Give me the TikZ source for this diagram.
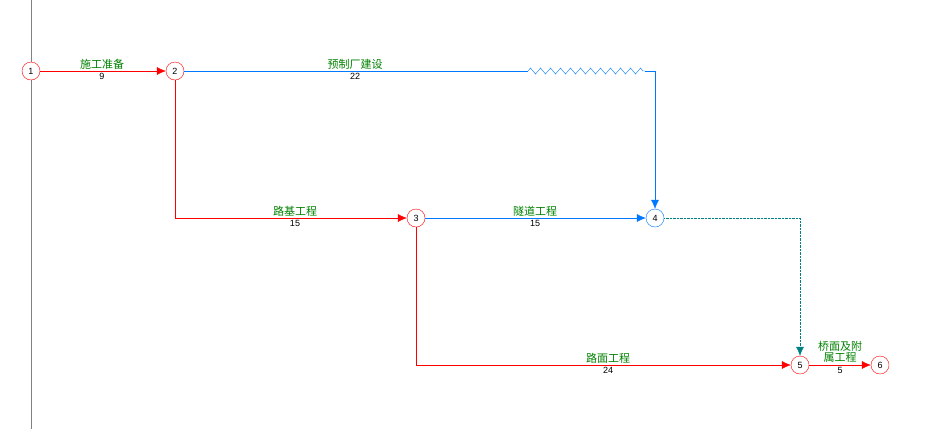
\documentclass[tikz,border=0pt]{standalone}
\usepackage{fontspec}
\setmainfont{Liberation Sans}
\newfontfamily\cjk{Noto Sans CJK SC}
\usetikzlibrary{arrows.meta,decorations.pathmorphing}
\definecolor{myred}{RGB}{255,0,0}
\definecolor{myblue}{RGB}{0,120,255}
\definecolor{mygreen}{RGB}{0,128,0}
\definecolor{myteal}{RGB}{0,128,128}
\begin{document}
\begin{tikzpicture}[x=1pt,y=-1pt,
  ev/.style={circle,draw=myred,fill=white,minimum size=18pt,inner sep=0pt,font=\fontsize{9}{9}\selectfont},
  evb/.style={ev,draw=myblue},
  act/.style={draw=myred,-{Latex[length=9pt,width=8pt]}},
  actb/.style={draw=myblue,-{Latex[length=9pt,width=8pt]}},
  nm/.style={text=mygreen,font=\cjk\fontsize{11}{11}\selectfont,inner sep=1pt},
  du/.style={font=\fontsize{9}{9}\selectfont,inner sep=1pt}]
\useasboundingbox (0,0) rectangle (939,429);
\draw[gray] (31,0) -- (31,429);
\node[ev] (n1) at (31,71) {1};
\node[ev] (n2) at (175,71) {2};
\node[ev] (n3) at (416,218) {3};
\node[evb] (n4) at (655,218) {4};
\node[ev] (n5) at (800,365) {5};
\node[ev] (n6) at (880,365) {6};
\coordinate (z1) at (528,71);
\coordinate (z2) at (645,71);
\coordinate (z3) at (655,71);
\coordinate (c23) at (175,218);
\coordinate (c35) at (416,365);
\coordinate (c45) at (800,218);
\draw[act] (n1) -- (n2);
\draw[myblue] (n2) -- (z1);
\draw[myblue,decorate,decoration={zigzag,segment length=10pt,amplitude=3pt}] (z1) -- (z2);
\draw[actb] (z2) -- (z3) -- (n4);
\draw[act] (n2) -- (c23) -- (n3);
\draw[actb] (n3) -- (n4);
\draw[act] (n3) -- (c35) -- (n5);
\draw[myteal,densely dotted,-{Latex[length=9pt,width=8pt]}] (n4) -- (c45) -- (n5);
\draw[act] (n5) -- (n6);
\node[nm,above] at (102,71) {施工准备};
\node[du,below] at (102,72) {9};
\node[nm,above] at (355,71) {预制厂建设};
\node[du,below] at (355,72) {22};
\node[nm,above] at (295,218) {路基工程};
\node[du,below] at (295,219) {15};
\node[nm,above] at (535,218) {隧道工程};
\node[du,below] at (535,219) {15};
\node[nm,above] at (608,365) {路面工程};
\node[du,below] at (608,366) {24};
\node[nm,above,align=center,font=\cjk\fontsize{11}{11}\selectfont] at (840,364) {桥面及附\\属工程};
\node[du,below] at (840,366) {5};
\end{tikzpicture}
\end{document}
